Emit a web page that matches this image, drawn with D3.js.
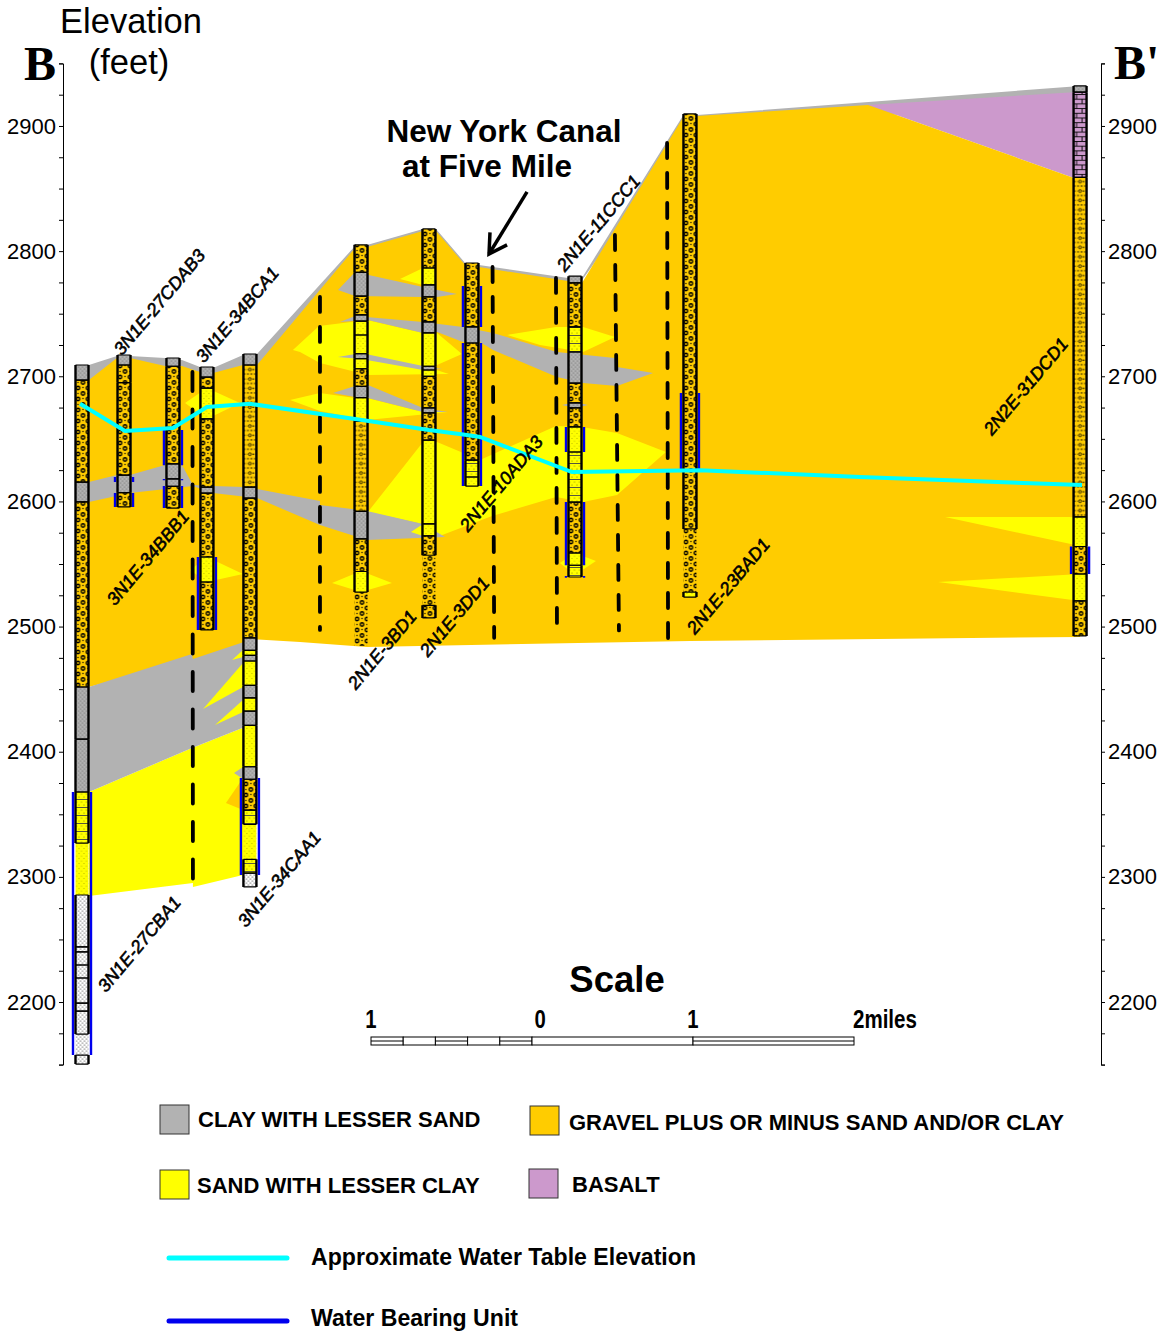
<!DOCTYPE html>
<html>
<head>
<meta charset="utf-8">
<script src="https://cdn.jsdelivr.net/npm/d3@7"></script>
<style>
  body { margin: 0; background: #fff; }
  text { font-family: "Liberation Sans", Arial, sans-serif; fill: #000; }
</style>
</head>
<body>
<div id="chart"></div>
<script>
// wells along the section, distance in miles from the left axis
const wellNames = ["3N1E-27CBA1", "3N1E-27CDAB3", "3N1E-34BBB1", "3N1E-34BCA1", "3N1E-34CAA1", "2N1E-3BD1",
  "2N1E-3DD1", "2N1E-10ADA3", "2N1E-11CCC1", "2N1E-23BAD1", "2N2E-31DCD1"];
const wellMiles = [0.118, 0.379, 0.683, 0.894, 1.161, 1.851, 2.273, 2.540, 3.180, 3.894, 6.317];
const wellLabelAt = [[0.267, 2207], [0.366, 2716], [0.323, 2516], [0.876, 2710], [1.137, 2259], [1.820, 2449],
  [2.267, 2475], [2.515, 2575], [3.118, 2783], [3.925, 2493], [5.770, 2652]];

// driller logs: [top ft, bottom ft, material]
const wellLogs = [
  [[2709, 2697, "clay"], [2697, 2615.5, "gravel"], [2615.5, 2599.6, "clay"], [2599.6, 2451.7, "gravel"],
   [2451.7, 2410, "clay"], [2410, 2367.8, "clay"], [2367.8, 2327, "sandBands"], [2327, 2285.5, "sandOpen"],
   [2285.5, 2244, "white"], [2244, 2240, "white"], [2240, 2229.6, "white"], [2229.6, 2219.2, "white"],
   [2219.2, 2199.2, "white"], [2199.2, 2192.8, "white"], [2192.8, 2174.4, "white"],
   [2174.4, 2157.6, "whiteOpen"], [2157.6, 2150.4, "white"]],
  [[2717, 2709, "clay"], [2709, 2695, "gravel"], [2695, 2621, "gravel"], [2621, 2607, "clay"], [2607, 2595.6, "gravel"]],
  [[2714.6, 2708, "clay"], [2708, 2630, "gravel"], [2630, 2618, "clay"], [2618, 2612, "clay"], [2612, 2594.7, "gravel"]],
  [[2707.4, 2699.4, "clay"], [2699.4, 2690.6, "gravel"], [2690.6, 2665.9, "sand"], [2665.9, 2611.5, "gravel"],
   [2611.5, 2606.7, "clay"], [2606.7, 2555.6, "gravel"], [2555.6, 2535.6, "sand"], [2535.6, 2497.3, "gravel"]],
  [[2717.8, 2709, "clay"], [2709, 2611.5, "gravelFine"], [2611.5, 2602.7, "clay"], [2602.7, 2490.9, "gravel"],
   [2490.9, 2481, "clay"], [2481, 2477, "sand"], [2477, 2472.5, "clay"], [2472.5, 2453, "sand"], [2453, 2443, "clay"],
   [2443, 2432.5, "sand"], [2432.5, 2421, "clay"], [2421, 2388, "sand"], [2388, 2378, "clay"], [2378, 2353.4, "gravel"],
   [2353.4, 2342, "sandBands"], [2342, 2314, "sandOpen"], [2314, 2303, "sandBands"], [2303, 2292, "white"]],
  [[2805, 2783, "gravel"], [2783, 2764, "clay"], [2764, 2749, "gravel"], [2749, 2744, "clay"], [2744, 2733, "sand"],
   [2733, 2718, "sand"], [2718, 2714, "clay"], [2714, 2706, "sand"], [2706, 2692, "gravel"], [2692, 2683, "clay"],
   [2683, 2664, "sand"], [2664, 2592, "gravelFine"], [2592, 2570, "clay"], [2570, 2544, "gravel"], [2544, 2527.6, "sand"],
   [2527.6, 2484.5, "gravelOpen"]],
  [[2817.7, 2786.5, "gravel"], [2786.5, 2773, "sand"], [2773, 2763.4, "clay"], [2763.4, 2743.4, "gravel"],
   [2743.4, 2734.6, "clay"], [2734.6, 2708, "sand"], [2708, 2705, "clay"], [2705, 2700, "sand"], [2700, 2674.7, "gravel"],
   [2674.7, 2670.7, "clay"], [2670.7, 2649, "gravel"], [2649, 2582, "sand"], [2582, 2572.4, "sand"], [2572.4, 2557, "gravel"],
   [2557, 2517, "gravelOpen"], [2517, 2506.9, "gravel"]],
  [[2790.5, 2739.4, "gravel"], [2739.4, 2726.6, "clay"], [2726.6, 2633, "gravel"], [2633, 2619.5, "sandBands"], [2619.5, 2612.3, "sand"]],
  [[2780, 2774.6, "clay"], [2774.6, 2739.4, "gravel"], [2739.4, 2719.4, "sandBands"], [2719.4, 2694.6, "clay"],
   [2694.6, 2678.7, "gravel"], [2678.7, 2674.7, "clay"], [2674.7, 2659.5, "gravel"], [2659.5, 2639.5, "sand"],
   [2639.5, 2599.5, "sandBands"], [2599.5, 2558.8, "gravel"], [2558.8, 2549, "sand"], [2549, 2539.6, "sandBands"]],
  [[2909.6, 2578, "gravel"], [2578, 2527.6, "gravelOpen"], [2527.6, 2523.6, "sand"]],
  [[2932, 2927, "clay"], [2927, 2859, "basalt"], [2859, 2587.6, "gravelFine"], [2587.6, 2564, "sand"], [2564, 2542, "gravel"],
   [2542, 2520.5, "sand"], [2520.5, 2492.5, "gravel"]]
];

// screened intervals: [well index, top ft, bottom ft]
const waterBearing = [[0, 2367.8, 2157.6], [1, 2619.5, 2615.5], [1, 2606.7, 2595.6], [2, 2657, 2629], [2, 2618, 2617],
  [2, 2612.3, 2594.7], [3, 2555.6, 2497.3], [4, 2379, 2301.5], [7, 2772.2, 2739.4], [7, 2726.6, 2612.3],
  [8, 2659.5, 2639.5], [8, 2599.5, 2549], [8, 2540.5, 2539], [9, 2686.7, 2623.5], [10, 2564, 2542]];

// water table [mile, ft]
const waterTable = [[0.106, 2678], [0.385, 2656.3], [0.683, 2658.7], [0.894, 2675.5], [1.161, 2678], [1.857, 2665.1],
  [2.273, 2657], [2.509, 2653.1], [2.590, 2651.5], [3.161, 2623.5], [3.957, 2625], [4.950, 2619.5], [6.329, 2613.1]];

// interpreted correlation polygons [mile, ft]
const clayCap = [[0.118, 2708], [0.161, 2709], [0.335, 2716.2], [0.416, 2716.2], [0.634, 2714.6], [0.739, 2713], [0.851, 2707.4],
  [0.932, 2706.6], [1.118, 2717], [1.205, 2717.8], [1.814, 2804.1], [1.888, 2804.9], [2.236, 2817.7], [2.317, 2817.7],
  [2.503, 2789.7], [2.584, 2788.9], [3.136, 2778.6], [3.223, 2778.6], [3.857, 2909.6], [3.938, 2908.8], [6.317, 2932],
  [6.317, 2920], [3.894, 2897], [3.180, 2769], [1.851, 2793], [1.161, 2697], [0.118, 2681]];
const gravelBody = [[0.118, 2696.2], [0.161, 2697], [0.335, 2714.6], [0.416, 2714.6], [0.634, 2708.2], [0.739, 2708.2],
  [0.851, 2703.4], [0.932, 2702.6], [1.118, 2709], [1.205, 2709], [1.814, 2802.5], [1.888, 2803.3], [2.236, 2816.1],
  [2.317, 2816.1], [2.503, 2788.1], [2.584, 2787.3], [3.136, 2776.1], [3.223, 2774.6], [3.857, 2908], [3.938, 2908],
  [5.000, 2916.8], [6.279, 2858.5], [6.317, 2858.5], [6.317, 2491.7], [3.894, 2488.5], [1.888, 2483.7], [1.472, 2487.7],
  [1.161, 2490.1], [1.118, 2485], [0.801, 2473.3], [0.161, 2451.7], [0.118, 2451.7]];
const basaltBody = [[5.000, 2916.8], [6.279, 2927], [6.317, 2927], [6.317, 2858.5], [6.279, 2858.5]];

const sandLenses = [
  [[0.161, 2367.8], [0.801, 2403], [1.161, 2421.4], [1.118, 2301.5], [0.807, 2291.9], [0.807, 2295.1], [0.161, 2284.7]],
  [[0.758, 2678.7], [0.894, 2690.6], [1.099, 2678.7], [0.894, 2665.9]],
  [[0.789, 2545.2], [0.894, 2555.6], [1.118, 2542], [0.894, 2535.6]],
  [[1.428, 2721], [1.590, 2740.2], [1.888, 2745], [2.236, 2734.6], [2.323, 2734.6], [2.478, 2717.8], [2.323, 2709],
   [2.279, 2706.6], [2.397, 2701.8], [1.894, 2701], [1.596, 2710.6], [1.472, 2719.4]],
  [[2.093, 2777.7], [2.236, 2786.5], [2.236, 2773]],
  [[2.758, 2733], [3.062, 2739.4], [3.230, 2739.4], [3.428, 2731.4], [3.230, 2719.4], [2.963, 2725]],
  [[1.410, 2681], [1.596, 2686.7], [1.814, 2682.7], [1.888, 2682.7], [2.236, 2671.5], [2.391, 2671.5], [1.888, 2665.1], [1.814, 2666.7], [1.596, 2672.3]],
  [[1.894, 2591.6], [2.236, 2647.5], [2.323, 2647.5], [2.590, 2633.1], [3.062, 2660.3], [3.223, 2659.5], [3.441, 2654.7],
   [3.745, 2639.5], [3.441, 2605.1], [3.230, 2599.5], [3.062, 2603.5], [2.665, 2588.4], [2.323, 2571.6], [2.236, 2572.4], [2.236, 2582]],
  [[1.671, 2534.8], [1.851, 2544.4], [2.043, 2534.8], [1.851, 2527.6]],
  [[3.086, 2550.8], [3.180, 2558.8], [3.310, 2552.4], [3.180, 2541.2]],
  [[5.478, 2587.6], [6.317, 2587.6], [6.317, 2564.4]],
  [[5.435, 2535.6], [6.317, 2542], [6.317, 2520.4]]
];
const clayLenses = [
  [[0.161, 2451.7], [0.801, 2478.1], [0.807, 2474.1], [1.161, 2489.3], [1.161, 2421.4], [0.801, 2403], [0.161, 2367.8]],
  [[1.062, 2383], [1.118, 2387.8], [1.118, 2378.2]],
  [[0.161, 2615.5], [0.335, 2621.1], [0.416, 2621.1], [0.634, 2629.1], [0.739, 2629.1], [0.807, 2613.1], [0.932, 2612.3],
   [1.124, 2611.5], [1.205, 2609.9], [1.596, 2600.4], [1.596, 2597.1], [1.888, 2592.4], [2.236, 2582], [2.373, 2571.6],
   [1.888, 2569.2], [1.596, 2581.2], [1.205, 2602.7], [0.932, 2606.7], [0.807, 2612.3], [0.416, 2606.7], [0.161, 2599.6]],
  [[1.708, 2715.4], [1.851, 2718.6], [2.236, 2708.2], [2.354, 2705.8], [2.236, 2705], [1.851, 2713.8]],
  [[1.720, 2743.4], [1.814, 2748.2], [2.236, 2743.4], [2.484, 2739.4], [2.671, 2734.6], [3.068, 2719.4], [3.428, 2714.6],
   [3.441, 2707.4], [3.665, 2702.6], [3.441, 2692.2], [3.230, 2694.6], [3.068, 2699.4], [2.671, 2721], [2.590, 2727.4],
   [2.484, 2727.4], [2.323, 2735.4], [2.236, 2734.6], [1.894, 2745]],
  [[1.708, 2769], [1.814, 2783.3], [2.236, 2771.4], [2.447, 2765.8], [2.323, 2763.4], [2.236, 2763.4], [1.814, 2764.2]],
  [[3.099, 2677], [3.180, 2679.5], [3.261, 2677], [3.180, 2674.7]],
  [[1.677, 2686.7], [1.814, 2692.2], [1.894, 2693], [2.236, 2674.7], [2.391, 2671.5], [2.236, 2671.5], [1.894, 2682.7], [1.814, 2683.5]]
];
// these sit on top of the clay
const sandTips = [
  [[0.870, 2434.1], [1.118, 2470.9], [1.118, 2451.7]],
  [[0.944, 2421.4], [1.118, 2441.3], [1.118, 2431.7]],
  [[1.050, 2473.3], [1.118, 2481.3], [1.118, 2475.7]],
  [[2.161, 2575.6], [2.236, 2582], [2.236, 2572.4]]
];
const gravelTips = [[[1.012, 2359], [1.118, 2379], [1.118, 2353.4]]];

// dashed correlation lines: top [mile, ft], bottom [mile, ft], dash, gap
const dashLines = [
  [[0.804, 2703.4], [0.807, 2297], 22, 15.5],
  [[1.596, 2763.4], [1.596, 2497.3], 18, 12],
  [[2.668, 2787.3], [2.678, 2491], 18, 12],
  [[3.062, 2778.6], [3.068, 2501], 18, 12],
  [[3.428, 2812.9], [3.453, 2496.9], 18, 12],
  [[3.752, 2886.4], [3.758, 2487.7], 18, 12]
];

const elevationTicks = d3.range(2150, 2951, 25);
const elevationLabels = d3.range(2200, 2901, 100);

const colors = { clay: "#B2B2B2", gravel: "#FFCC00", sand: "#FFFF00", basalt: "#CC99CC" };
const scaleMiles = [-1, -0.8, -0.6, -0.4, -0.2, 0, 1, 2];
const scaleNumbers = [[-1, "1"], [0.05, "0"], [1, "1"]];
const legendBoxes = [["CLAY WITH LESSER SAND", colors.clay], ["GRAVEL PLUS OR MINUS SAND AND/OR CLAY", colors.gravel],
  ["SAND WITH LESSER CLAY", colors.sand], ["BASALT", colors.basalt]];
const legendLines = [["Approximate Water Table Elevation", "#00FFFF"], ["Water Bearing Unit", "#0000EE"]];

const width = 1164, height = 1333;
const x = d3.scaleLinear().domain([0, 6.447]).range([63, 1101]);
const y = d3.scaleLinear().domain([2150, 2950]).range([1064.6, 63.4]);
const barX = d3.scaleLinear().domain([0, 2]).range([532, 854]);
const polyLine = d3.line().x(d => x(d[0])).y(d => y(d[1]));

const svg = d3.select("#chart").append("svg")
  .attr("width", width)
  .attr("height", height)
  .style("display", "block");

// litho fill patterns for the logs
const defs = svg.append("defs");
function pattern(id, w, h, bg) {
  const p = defs.append("pattern").attr("id", id).attr("patternUnits", "userSpaceOnUse").attr("width", w).attr("height", h);
  p.append("rect").attr("width", w).attr("height", h).attr("fill", bg);
  return p;
}
function dots(p, pts, r) {
  pts.forEach(d => p.append("circle").attr("cx", d[0]).attr("cy", d[1]).attr("r", r).attr("fill", "#000"));
}
const pGravel = pattern("p-gravel", 10, 11, colors.gravel);
[[2.5, 3], [7.5, 8.5]].forEach(d => pGravel.append("circle").attr("cx", d[0]).attr("cy", d[1]).attr("r", 1.7)
  .attr("fill", "none").attr("stroke", "#000").attr("stroke-width", 1.4));
dots(pGravel, [[7.5, 2.5], [2.5, 8.5]], 0.7);
const pFine = pattern("p-gravelFine", 13, 9.4, colors.gravel);
pFine.append("path").attr("d", "M0 3H4M9 3H13M0 7.5H13").attr("stroke", "#000").attr("stroke-width", 0.9).attr("stroke-dasharray", "2 1.5");
pFine.append("circle").attr("cx", 6.5).attr("cy", 3).attr("r", 1.4).attr("fill", "none").attr("stroke", "#000").attr("stroke-width", 0.9);
const pSand = pattern("p-sand", 5, 5, colors.sand);
dots(pSand, [[1, 1], [3.5, 3.5]], 0.35);
const pBands = pattern("p-sandBands", 5, 8, colors.sand);
dots(pBands, [[1, 2], [3.5, 5]], 0.4);
pBands.append("path").attr("d", "M0 7.5H5").attr("stroke", "#444").attr("stroke-width", 0.9);
const pClay = pattern("p-clay", 4, 4, colors.clay);
dots(pClay, [[1, 1], [3, 3]], 0.4);
const pWhite = pattern("p-white", 4, 4, "#fff");
dots(pWhite, [[1, 1], [3, 3]], 0.55);
const pBasalt = pattern("p-basalt", 11, 9.4, colors.basalt);
pBasalt.append("path").attr("d", "M0 0.5H11M0 5.2H11M3 0.5V5.2M8.5 5.2V9.4").attr("stroke", "#000").attr("stroke-width", 0.9).attr("fill", "none");

const rockStyle = {
  clay: ["p-clay", true], gravel: ["p-gravel", true], gravelFine: ["p-gravelFine", true], gravelOpen: ["p-gravel", false],
  sand: ["p-sand", true], sandOpen: ["p-sand", false], sandBands: ["p-sandBands", true],
  white: ["p-white", true], whiteOpen: ["p-white", false], basalt: ["p-basalt", true]
};

// geology panels
function drawPolys(list, fill) {
  svg.append("g").selectAll("path").data(list).join("path")
    .attr("d", d => polyLine(d) + "Z")
    .attr("fill", fill);
}
drawPolys([clayCap], colors.clay);
drawPolys([basaltBody], colors.basalt);
drawPolys([gravelBody], colors.gravel);
drawPolys(sandLenses, colors.sand);
drawPolys(clayLenses, colors.clay);
drawPolys(sandTips, colors.sand);
drawPolys(gravelTips, colors.gravel);

// dashed lines
svg.append("g").selectAll("path").data(dashLines).join("path")
  .attr("d", d => polyLine([d[0], d[1]]))
  .attr("fill", "none")
  .attr("stroke", "#000")
  .attr("stroke-width", 3.8)
  .attr("stroke-linecap", "round")
  .attr("stroke-dasharray", d => `${d[2] - 3} ${d[3] + 3}`);

// axes
const axisLeft = d3.axisLeft(y).tickValues(elevationTicks).tickSize(4).tickPadding(3)
  .tickFormat(d => elevationLabels.includes(d) ? d : "");
const axisRight = d3.axisRight(y).tickValues(elevationTicks).tickSize(4).tickPadding(3)
  .tickFormat(d => elevationLabels.includes(d) ? d : "");
[svg.append("g").attr("transform", `translate(${x(0)},0)`).call(axisLeft),
 svg.append("g").attr("transform", `translate(${x(6.447)},0)`).call(axisRight)].forEach(g => {
  g.selectAll("text").style("font-family", '"Liberation Sans"').style("font-size", "22px").attr("fill", "#000");
  g.selectAll("path,line").attr("stroke", "#000").attr("stroke-width", 1);
});

// blue screens go under the logs, only the two side bars show
const wellW = 13;
svg.append("g").selectAll("path").data(waterBearing).join("path")
  .attr("d", d => {
    const cx = x(wellMiles[d[0]]);
    return `M${cx - 9} ${y(d[1])}V${y(d[2])}M${cx + 9} ${y(d[1])}V${y(d[2])}`;
  })
  .attr("fill", "none")
  .attr("stroke", "#0000EE")
  .attr("stroke-width", 2.4);

// well logs
const wells = svg.append("g").selectAll("g").data(wellLogs).join("g")
  .attr("transform", (d, i) => `translate(${x(wellMiles[i]) - wellW / 2},0)`);
wells.selectAll("rect").data(d => d).join("rect")
  .attr("width", wellW)
  .attr("y", d => y(d[0]))
  .attr("height", d => y(d[1]) - y(d[0]))
  .attr("fill", d => `url(#${rockStyle[d[2]][0]})`);
wells.selectAll("path.side").data(d => d.filter(k => rockStyle[k[2]][1])).join("path")
  .attr("class", "side")
  .attr("d", d => `M0 ${y(d[0])}V${y(d[1])}M${wellW} ${y(d[0])}V${y(d[1])}`)
  .attr("stroke", "#000").attr("stroke-width", 2.4).attr("fill", "none");
wells.selectAll("path.cap").data(d => d.filter(k => rockStyle[k[2]][1])).join("path")
  .attr("class", "cap")
  .attr("d", d => `M0 ${y(d[0])}H${wellW}M0 ${y(d[1])}H${wellW}`)
  .attr("stroke", "#000").attr("stroke-width", 1.2).attr("fill", "none");

// water table
svg.append("path")
  .attr("d", polyLine(waterTable))
  .attr("fill", "none")
  .attr("stroke", "#00FFFF")
  .attr("stroke-width", 4);

// well names
svg.append("g").selectAll("text").data(wellNames).join("text")
  .attr("transform", (d, i) => `translate(${x(wellLabelAt[i][0])},${y(wellLabelAt[i][1])}) rotate(-50)`)
  .style("font-size", "18px")
  .style("font-style", "italic")
  .style("stroke", "#000")
  .style("stroke-width", 0.6)
  .text(d => d);

// titles
svg.append("text").attr("x", 131).attr("y", 33).attr("text-anchor", "middle").style("font-size", "34.5px").text("Elevation");
svg.append("text").attr("x", 129).attr("y", 74).attr("text-anchor", "middle").style("font-size", "34.5px").text("(feet)");
svg.append("text").attr("x", 24).attr("y", 80).style("font-family", '"Liberation Serif"').style("font-weight", "bold").style("font-size", "48px").text("B");
svg.append("text").attr("x", 1114).attr("y", 79).style("font-family", '"Liberation Serif"').style("font-weight", "bold").style("font-size", "48px").text("B'");

// canal callout
svg.append("text").attr("x", 504).attr("y", 142).attr("text-anchor", "middle").style("font-weight", "bold").style("font-size", "31.5px").text("New York Canal");
svg.append("text").attr("x", 487).attr("y", 177).attr("text-anchor", "middle").style("font-weight", "bold").style("font-size", "31.5px").text("at Five Mile");
svg.append("path")
  .attr("d", polyLine([[2.882, 2847.3], [2.646, 2797.7]]))
  .attr("stroke", "#000").attr("stroke-width", 3.5).attr("fill", "none");
svg.append("path")
  .attr("d", polyLine([[2.652, 2815], [2.646, 2797.7], [2.758, 2805]]))
  .attr("stroke", "#000").attr("stroke-width", 3.5).attr("fill", "none");

// scale bar
svg.append("text").attr("x", 617).attr("y", 992).attr("text-anchor", "middle").style("font-weight", "bold").style("font-size", "36.5px").text("Scale");
const barTop = 1037, barBottom = 1045, barMid = 1041;
const barSegs = d3.pairs(scaleMiles);
svg.append("g").selectAll("rect").data(barSegs).join("rect")
  .attr("x", d => barX(d[0]))
  .attr("y", barTop)
  .attr("width", d => barX(d[1]) - barX(d[0]))
  .attr("height", barBottom - barTop)
  .attr("fill", "#fff")
  .attr("stroke", "#000")
  .attr("stroke-width", 1);
svg.append("g").selectAll("line").data(barSegs.filter((d, i) => i % 2 === 0)).join("line")
  .attr("x1", d => barX(d[0]))
  .attr("x2", d => barX(d[1]))
  .attr("y1", barMid)
  .attr("y2", barMid)
  .attr("stroke", "#000")
  .attr("stroke-width", 1);
// labels here are condensed in the original
svg.append("g").selectAll("text").data(scaleNumbers).join("text")
  .attr("transform", d => `translate(${barX(d[0])},1028) scale(0.78,1)`)
  .attr("text-anchor", "middle")
  .style("font-weight", "bold")
  .style("font-size", "26px")
  .text(d => d[1]);
svg.append("text").attr("transform", `translate(${barX(2) - 1},1028) scale(0.79,1)`)
  .style("font-weight", "bold").style("font-size", "26px").text("2miles");

// legend
const legendBoxAt = [[160, 1105, 198, 1127], [530, 1106, 569, 1130], [160, 1170, 197, 1193], [529, 1169, 572, 1192]];
const legend = svg.append("g");
legend.selectAll("rect").data(legendBoxes).join("rect")
  .attr("x", (d, i) => legendBoxAt[i][0])
  .attr("y", (d, i) => legendBoxAt[i][1])
  .attr("width", 29)
  .attr("height", 29)
  .attr("fill", d => d[1])
  .attr("stroke", "#333")
  .attr("stroke-width", 1);
legend.selectAll("text").data(legendBoxes).join("text")
  .attr("x", (d, i) => legendBoxAt[i][2])
  .attr("y", (d, i) => legendBoxAt[i][3])
  .style("font-weight", "bold")
  .style("font-size", "22px")
  .text(d => d[0]);
const legendLineY = [1258, 1321], legendLineText = [1265, 1326];
legend.selectAll("line").data(legendLines).join("line")
  .attr("x1", 169).attr("x2", 287)
  .attr("y1", (d, i) => legendLineY[i]).attr("y2", (d, i) => legendLineY[i])
  .attr("stroke", d => d[1])
  .attr("stroke-width", 5)
  .attr("stroke-linecap", "round");
legend.selectAll("text.line").data(legendLines).join("text")
  .attr("class", "line")
  .attr("x", 311)
  .attr("y", (d, i) => legendLineText[i])
  .style("font-weight", "bold")
  .style("font-size", "23.1px")
  .text(d => d[0]);
</script>
</body>
</html>
